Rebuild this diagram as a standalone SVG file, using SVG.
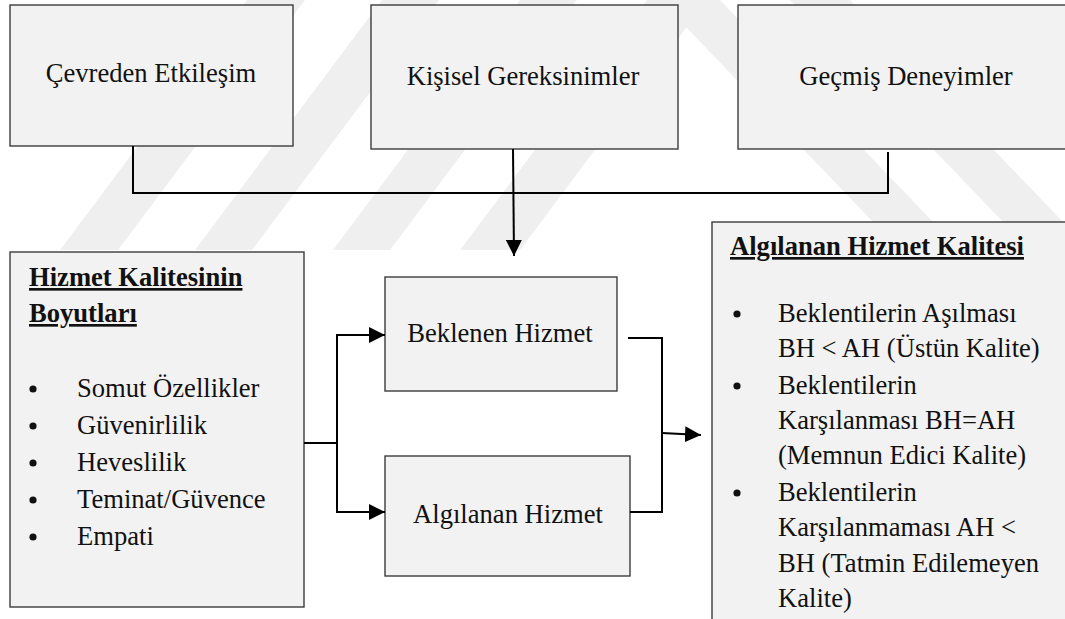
<svg xmlns="http://www.w3.org/2000/svg" width="1065" height="619" viewBox="0 0 1065 619">
  <style>
    .box { fill: #f2f2f2; stroke: #3c3c3c; stroke-width: 1.4; }
    .t { font-family: 'Liberation Serif', 'Times New Roman', serif; font-size: 26.6px; fill: #111; }
    .c { text-anchor: middle; }
    .h { font-weight: bold; text-decoration: underline; }
    .dot { fill: #111; }
    .wire { fill: none; stroke: #000; stroke-width: 2; }
    .wm { fill: #efefef; }
  </style>
  <defs>
    <marker id="arrL" viewBox="0 0 10 10" refX="10" refY="5" markerWidth="16" markerHeight="16" markerUnits="userSpaceOnUse" orient="auto">
      <path d="M0,0 L10,5 L0,10 Z" fill="#000"/>
    </marker>
  </defs>

  <rect width="1065" height="619" fill="#ffffff"/>

  <!-- faint background emblem stripes -->
  <g id="emblem">
    <polygon class="wm" points="60,250 118,250 305,0 247,0"/>
    <polygon class="wm" points="195,250 252,250 439,0 382,0"/>
    <polygon class="wm" points="333,250 390,250 577,0 520,0"/>
    <polygon class="wm" points="460,250 520,250 707,0 647,0"/>
    <polygon class="wm" points="660,0 720,0 960,250 900,250"/>
    <polygon class="wm" points="790,0 850,0 1090,250 1030,250"/>
  </g>

  <!-- top influence boxes -->
  <g id="cevreden-etkilesim">
    <rect class="box" x="10" y="5" width="283" height="141"/>
    <text class="t c" x="151" y="82">Çevreden Etkileşim</text>
  </g>
  <g id="kisisel-gereksinimler">
    <rect class="box" x="371" y="5" width="307" height="144"/>
    <text class="t c" x="523" y="85">Kişisel Gereksinimler</text>
  </g>
  <g id="gecmis-deneyimler">
    <rect class="box" x="738" y="5" width="340" height="144"/>
    <text class="t c" x="906" y="85">Geçmiş Deneyimler</text>
  </g>

  <!-- dimensions of service quality -->
  <g id="hizmet-kalitesinin-boyutlari">
    <rect class="box" x="10" y="252" width="294" height="355"/>
    <text class="t h" x="29" y="286">Hizmet Kalitesinin</text>
    <text class="t h" x="29" y="322">Boyutları</text>
    <circle class="dot" cx="33" cy="389" r="3.6"/>
    <text class="t" x="77" y="397">Somut Özellikler</text>
    <circle class="dot" cx="33" cy="426" r="3.6"/>
    <text class="t" x="77" y="434">Güvenirlilik</text>
    <circle class="dot" cx="33" cy="463" r="3.6"/>
    <text class="t" x="77" y="471">Heveslilik</text>
    <circle class="dot" cx="33" cy="500" r="3.6"/>
    <text class="t" x="77" y="508">Teminat/Güvence</text>
    <circle class="dot" cx="33" cy="537" r="3.6"/>
    <text class="t" x="77" y="545">Empati</text>
  </g>

  <!-- expected and perceived service -->
  <g id="beklenen-hizmet">
    <rect class="box" x="385" y="277" width="232" height="114"/>
    <text class="t c" x="500" y="342">Beklenen Hizmet</text>
  </g>
  <g id="algilanan-hizmet">
    <rect class="box" x="385" y="456" width="245" height="120"/>
    <text class="t c" x="508" y="523">Algılanan Hizmet</text>
  </g>

  <!-- perceived service quality -->
  <g id="algilanan-hizmet-kalitesi">
    <rect class="box" x="712" y="222" width="400" height="420"/>
    <text class="t h" x="730" y="255">Algılanan Hizmet Kalitesi</text>
    <circle class="dot" cx="737" cy="314" r="3.6"/>
    <text class="t" x="778" y="322">Beklentilerin Aşılması</text>
    <text class="t" x="778" y="357">BH &lt; AH (Üstün Kalite)</text>
    <circle class="dot" cx="737" cy="386" r="3.6"/>
    <text class="t" x="778" y="394">Beklentilerin</text>
    <text class="t" x="778" y="429">Karşılanması BH=AH</text>
    <text class="t" x="778" y="464">(Memnun Edici Kalite)</text>
    <circle class="dot" cx="737" cy="493" r="3.6"/>
    <text class="t" x="778" y="501">Beklentilerin</text>
    <text class="t" x="778" y="536">Karşılanmaması AH &lt;</text>
    <text class="t" x="778" y="572">BH (Tatmin Edilemeyen</text>
    <text class="t" x="778" y="607">Kalite)</text>
  </g>

  <!-- connectors -->
  <g id="connectors">
    <path class="wire" d="M133,146 V193 H888 V152"/>
    <path class="wire" d="M513,149 L514,256" marker-end="url(#arrL)"/>
    <path class="wire" d="M304,443 H337"/>
    <path class="wire" d="M337,335 V512"/>
    <path class="wire" d="M336,335 H385" marker-end="url(#arrL)"/>
    <path class="wire" d="M336,512 H385" marker-end="url(#arrL)"/>
    <path class="wire" d="M628,338 H662 V512 H630"/>
    <path class="wire" d="M662,433 L701,435" marker-end="url(#arrL)"/>
  </g>
</svg>
